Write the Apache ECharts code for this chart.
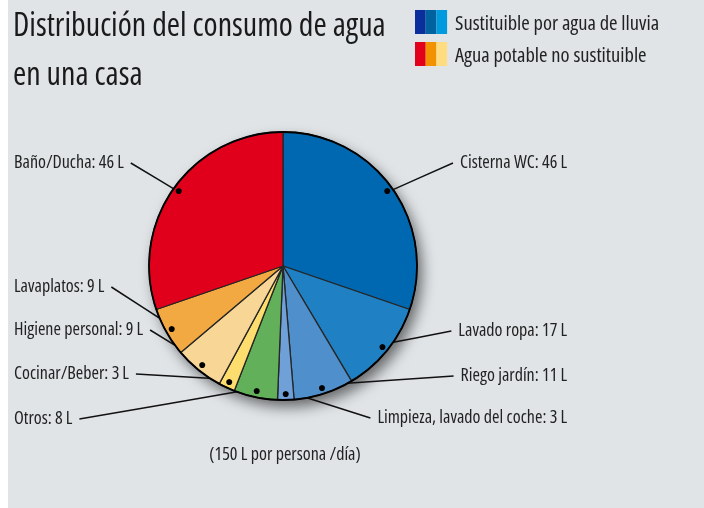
<!DOCTYPE html>
<html>
<head>
<meta charset="utf-8">
<script src="https://cdn.jsdelivr.net/npm/echarts@6/dist/echarts.min.js"></script>
<style>
  html, body { margin: 0; padding: 0; background: #fff; }
  #chart { width: 704px; height: 508px; }
</style>
</head>
<body>
<div id="chart"></div>
<script>
const chartTitle = 'Distribución del consumo de agua\nen una casa';
const footnote = '(150 L por persona /día)';

const categories = ['Cisterna WC', 'Lavado ropa', 'Riego jardín', 'Limpieza, lavado del coche',
  'Otros', 'Cocinar/Beber', 'Higiene personal', 'Lavaplatos', 'Baño/Ducha'];
const litres = [46, 17, 11, 3, 8, 3, 9, 9, 46];

const legendNames = ['Sustituible por agua de lluvia', 'Agua potable no sustituible'];

const sliceColors = ['#0067b1', '#1f81c4', '#4f8fcc', '#6fa0d8', '#63b05a',
  '#fedd6f', '#f8d696', '#f3a941', '#e0001b'];
const legendColors = [['#0a2f9c', '#00639f', '#009ade'], ['#e3001b', '#f39200', '#fedc7f']];

// label anchor x, label centre y, which side the text hangs from
const labelSpots = [
  [567, 163, 'right'], [567, 331, 'right'], [567, 376, 'right'], [567, 418, 'right'],
  [14, 419, 'left'], [14, 374, 'left'], [14, 330, 'left'], [14, 287, 'left'], [14, 163, 'left']
];

// condensed cut of Open Sans (width axis)
const FAMILY = '"Open Sans", sans-serif';
const cond = function (size) { return 'condensed normal ' + size + 'px ' + FAMILY; };
const CENTER = [283, 266];
const R = 134;

const chart = echarts.init(document.getElementById('chart'));

const legendGraphics = [];
legendColors.forEach(function (cols, row) {
  cols.forEach(function (c, k) {
    legendGraphics.push({
      type: 'rect', x: 415 + k * 10.7, y: 10 + row * 32,
      shape: { width: 10.7, height: 24 }, style: { fill: c }
    });
  });
  legendGraphics.push({
    type: 'text', x: 455, y: 24 + row * 32,
    style: { text: legendNames[row], font: cond(20.5), fill: '#222', verticalAlign: 'middle' }
  });
});

const option = {
  backgroundColor: '#e0e4e7',
  animation: false,
  title: {
    text: chartTitle,
    left: 13, top: 2, padding: 0,
    textStyle: { fontSize: 32, lineHeight: 49, fontStyle: 'condensed', fontWeight: 'normal', color: '#1a1a1a', fontFamily: FAMILY }
  },
  graphic: [
    { type: 'rect', x: 0, y: 0, shape: { width: 8, height: 508 }, style: { fill: '#fff' } },
    {
      type: 'text', x: 285, y: 455,
      style: { text: footnote, font: cond(18), fill: '#222', align: 'center', verticalAlign: 'middle' }
    }
  ].concat(legendGraphics),
  series: [
    {
      // shadow disc under the pie
      type: 'pie', silent: true, center: CENTER, radius: R, z: 1,
      label: { show: false }, labelLine: { show: false },
      data: [{ value: 1, itemStyle: { color: '#777', shadowBlur: 14, shadowOffsetX: 5, shadowOffsetY: 7, shadowColor: 'rgba(0,0,0,0.55)' } }]
    },
    {
      type: 'pie', silent: true, center: CENTER, radius: R, z: 2,
      startAngle: 90, clockwise: true, avoidLabelOverlap: false,
      itemStyle: { borderColor: '#262626', borderWidth: 1.3 },
      label: {
        formatter: '{b}: {c}\u2009L', fontSize: 18, fontStyle: 'condensed', fontWeight: 'normal',
        color: '#222', fontFamily: FAMILY
      },
      labelLine: { show: true, length: 12, length2: 12, lineStyle: { color: '#111', width: 1.5 } },
      labelLayout: function (params) {
        const spot = labelSpots[params.dataIndex];
        const pts = params.labelLinePoints;
        const w = params.labelRect.width;
        const dx = pts[1][0] - pts[0][0];
        const dy = pts[1][1] - pts[0][1];
        const len = Math.hypot(dx, dy) || 1;
        const start = [pts[0][0] - dx / len * 9, pts[0][1] - dy / len * 9];
        const endX = spot[2] === 'right' ? spot[0] - w - 7 : spot[0] + w + 7;
        const end = [endX, spot[1]];
        return {
          x: spot[0], y: spot[1], align: spot[2], verticalAlign: 'middle',
          labelLinePoints: [start, [(start[0] + end[0]) / 2, (start[1] + end[1]) / 2], end]
        };
      },
      data: categories.map(function (name, i) {
        return { name: name, value: litres[i], itemStyle: { color: sliceColors[i] } };
      })
    },
    {
      // dark outline round the whole pie
      type: 'pie', silent: true, center: CENTER, radius: R, z: 3,
      startAngle: 90, label: { show: false }, labelLine: { show: false },
      data: [{ value: 1, itemStyle: { color: 'rgba(0,0,0,0)', borderColor: '#000', borderWidth: 1.8 } }]
    },
    {
      // dots where the leader lines begin
      type: 'pie', silent: true, center: CENTER, radius: [R - 18, R], z: 4,
      startAngle: 90, clockwise: true,
      itemStyle: { color: 'rgba(0,0,0,0)' },
      label: { position: 'inside', formatter: '\u25CF', fontSize: 14, color: '#000' },
      labelLine: { show: false },
      data: categories.map(function (name, i) {
        return { name: name, value: litres[i] };
      })
    }
  ]
};

chart.setOption(option);
</script>
</body>
</html>
